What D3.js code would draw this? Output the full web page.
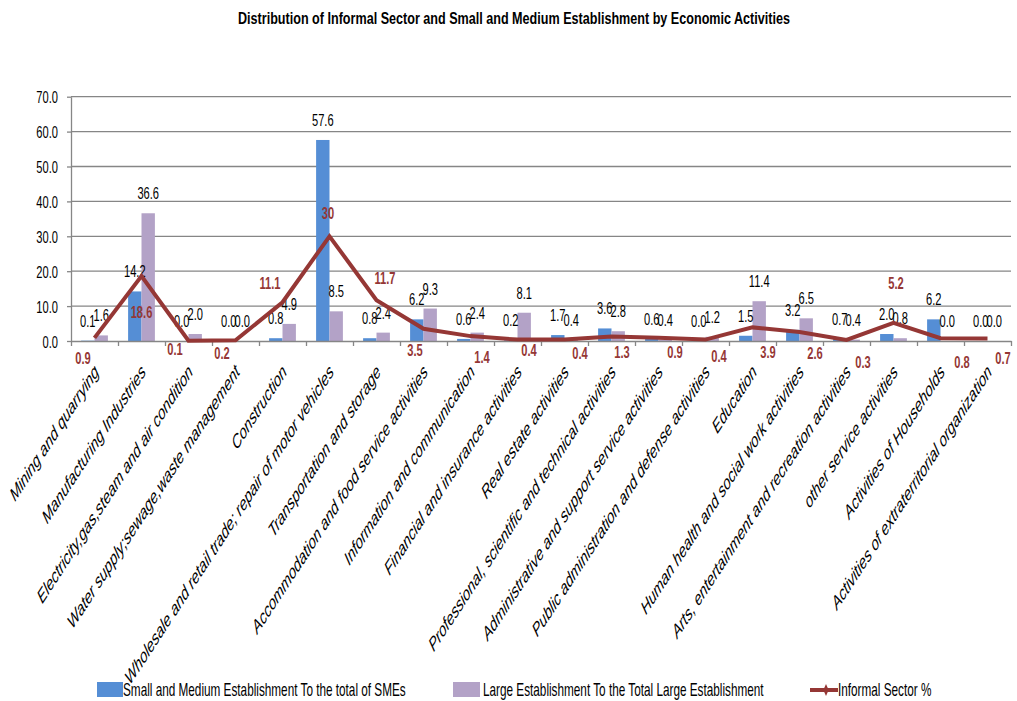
<!DOCTYPE html>
<html><head><meta charset="utf-8">
<script src="https://cdn.jsdelivr.net/npm/d3@7"></script>
<style>body{margin:0;background:#fff} svg{display:block}</style>
</head><body>
<svg id="chart" width="1017" height="701"></svg>
<script>
// ---------------- data ----------------
const chartTitle = "Distribution of Informal Sector and Small and  Medium Establishment by Economic Activities";
const categories = [
  "Mining and quarrying",
  "Manufacturing Industries",
  "Electricity,gas,steam  and air condition",
  "Water supply;sewage,waste  management",
  "Construction",
  "Wholesale and retail trade; repair of motor  vehicles",
  "Transportation  and storage",
  "Accommodation  and food service activities",
  "Information  and communication",
  "Financial and insurance activities",
  "Real estate activities",
  "Professional, scientific and technical activities",
  "Administrative  and  support service activities",
  "Public administration  and defense activities",
  "Education",
  "Human health  and social work activities",
  "Arts, entertainment and recreation activities",
  "other service activities",
  "Activities of Households",
  "Activities of extraterritorial organization"
];
const smeShare      = [0.1, 14.2, 0.0, 0.0, 0.8, 57.6, 0.8, 6.2, 0.6, 0.2, 1.7, 3.6, 0.6, 0.0, 1.5, 3.2, 0.7, 2.0, 6.2, 0.0];
const largeShare    = [1.6, 36.6, 2.0, 0.0, 4.9, 8.5, 2.4, 9.3, 2.4, 8.1, 0.4, 2.8, 0.4, 1.2, 11.4, 6.5, 0.4, 0.8, 0.0, 0.0];
const informalShare = [0.9, 18.6, 0.1, 0.2, 11.1, 30, 11.7, 3.5, 1.4, 0.4, 0.4, 1.3, 0.9, 0.4, 3.9, 2.6, 0.3, 5.2, 0.8, 0.7];
const yTickValues   = [0, 10, 20, 30, 40, 50, 60, 70];
const seriesNames   = [
  "Small and Medium Establishment  To the total of SMEs",
  "Large Establishment To the Total Large Establishment",
  "Informal Sector %"
];

// ---------------- layout / style (not data) ----------------
// label offsets of the informal-sector labels relative to their point [dx, dy]
const informalLabelOffset = [
  [-11.5, 20], [0, 36], [-13.5, 8], [-13.5, 13], [-12.5, -19], [-1.5, -23], [8.5, -22],
  [-8.5, 21], [11.5, 21], [11.5, 10], [15.5, 13], [10.5, 15], [16.5, 14], [13.5, 16],
  [15.5, 24], [15.5, 21], [16.5, 22], [2.5, -40], [21.5, 24], [15.5, 19]
];
const SX = 0.654;            // horizontal squeeze of the text
const FONT = "'Liberation Sans', Arial, sans-serif";
const colSME = "#558ED5", colLarge = "#B3A2C7", colInf = "#953735", colAxis = "#868686";

const svg = d3.select("#chart");
const plotL = 71, plotR = 1011, plotT = 96.7, plotB = 341;

const x = d3.scaleBand().domain(categories).range([plotL, plotR]).padding(0);
const xEdge = d3.scaleLinear().domain([0, categories.length]).range([plotL, plotR]);
const y = d3.scaleLinear().domain([0, 70]).range([plotB, plotT]);
const cx = c => x(c) + x.bandwidth() / 2;
const barW = 13.4;

// title
svg.append("text")
  .attr("x", 514).attr("y", 24)
  .attr("text-anchor", "middle")
  .attr("font-family", FONT).attr("font-weight", "bold").attr("font-size", 16)
  .attr("textLength", 552).attr("lengthAdjust", "spacingAndGlyphs")
  .attr("fill", "#000")
  .text(chartTitle);

// gridlines
svg.append("g").selectAll("line")
  .data(yTickValues.filter(v => v > 0))
  .join("line")
  .attr("x1", plotL).attr("x2", plotR)
  .attr("y1", d => y(d)).attr("y2", d => y(d))
  .attr("stroke", colAxis).attr("stroke-width", 1.3);

// y axis
const yAxis = svg.append("g")
  .attr("transform", `translate(${plotL},0)`)
  .call(d3.axisLeft(y).tickValues(yTickValues).tickFormat(d3.format(".1f")).tickSize(4).tickSizeOuter(0));
yAxis.select(".domain").attr("stroke", colAxis).attr("stroke-width", 1.3);
yAxis.selectAll(".tick line").attr("stroke", colAxis).attr("stroke-width", 1.3);
yAxis.selectAll(".tick text")
  .attr("x", 0).attr("dy", "0.36em")
  .attr("transform", `translate(-13,0) scale(${SX},1)`)
  .attr("font-family", FONT).attr("font-size", 17).attr("fill", "#000");

// bars
const gBars = svg.append("g");
gBars.selectAll("rect.sme")
  .data(categories)
  .join("rect").attr("class", "sme")
  .attr("x", c => cx(c) - barW)
  .attr("width", barW)
  .attr("y", (c, i) => y(smeShare[i]))
  .attr("height", (c, i) => y(0) - y(smeShare[i]))
  .attr("fill", colSME);
gBars.selectAll("rect.large")
  .data(categories)
  .join("rect").attr("class", "large")
  .attr("x", c => cx(c))
  .attr("width", barW)
  .attr("y", (c, i) => y(largeShare[i]))
  .attr("height", (c, i) => y(0) - y(largeShare[i]))
  .attr("fill", colLarge);

// x axis
const xAxis = svg.append("g")
  .attr("transform", `translate(0,${plotB})`)
  .call(d3.axisBottom(xEdge).tickValues(d3.range(categories.length + 1)).tickFormat("").tickSize(5).tickSizeOuter(0));
xAxis.select(".domain").attr("stroke", colAxis).attr("stroke-width", 1.3);
xAxis.selectAll(".tick line").attr("stroke", colAxis).attr("stroke-width", 1.3);

// category labels
svg.append("g").selectAll("text")
  .data(categories)
  .join("text")
  .attr("transform", c => `translate(${cx(c) + 5},373) scale(${SX},1) rotate(-45)`)
  .attr("text-anchor", "end")
  .attr("font-family", FONT).attr("font-style", "italic").attr("font-size", 19.6)
  .attr("fill", "#000")
  .text(c => c);

// bar value labels
const fmt = d3.format(".1f");
const gLab = svg.append("g").attr("font-family", FONT).attr("font-size", 17).attr("fill", "#000").attr("text-anchor", "middle");
gLab.selectAll("text.sme")
  .data(categories)
  .join("text").attr("class", "sme")
  .attr("transform", (c, i) => `translate(${cx(c) - barW / 2},${y(smeShare[i]) - 14}) scale(${SX},1)`)
  .text((c, i) => fmt(smeShare[i]));
gLab.selectAll("text.large")
  .data(categories)
  .join("text").attr("class", "large")
  .attr("transform", (c, i) => `translate(${cx(c) + barW / 2},${y(largeShare[i]) - 14}) scale(${SX},1)`)
  .text((c, i) => fmt(largeShare[i]));

// informal line
const line = d3.line().x((v, i) => cx(categories[i])).y(v => y(v));
svg.append("path")
  .datum(informalShare)
  .attr("d", line)
  .attr("fill", "none")
  .attr("stroke", colInf).attr("stroke-width", 4)
  .attr("stroke-linejoin", "miter");

// informal labels
svg.append("g").selectAll("text")
  .data(informalShare)
  .join("text")
  .attr("transform", (v, i) => `translate(${cx(categories[i]) + informalLabelOffset[i][0]},${y(v) + informalLabelOffset[i][1]}) scale(${SX},1)`)
  .attr("dy", "0.36em")
  .attr("text-anchor", "middle")
  .attr("font-family", FONT).attr("font-weight", "bold").attr("font-size", 17)
  .attr("fill", colInf)
  .text(v => String(v));

// legend
const lg = svg.append("g").attr("font-family", FONT).attr("font-size", 18).attr("fill", "#000");
lg.append("rect").attr("x", 97).attr("y", 682).attr("width", 26).attr("height", 15).attr("fill", colSME);
lg.append("text").attr("transform", `translate(123,696) scale(${SX},1)`).text(seriesNames[0]);
lg.append("rect").attr("x", 453).attr("y", 682).attr("width", 27).attr("height", 15).attr("fill", colLarge);
lg.append("text").attr("transform", `translate(483,696) scale(${SX},1)`).text(seriesNames[1]);
lg.append("line").attr("x1", 810).attr("x2", 838).attr("y1", 690).attr("y2", 690).attr("stroke", colInf).attr("stroke-width", 4);
lg.append("path").attr("transform", "translate(826,690)")
  .attr("d", "M0,-6 L2,-1.5 L5,0 L2,1.5 L0,6 L-2,1.5 L-5,0 L-2,-1.5 Z").attr("fill", colInf);
lg.append("text").attr("transform", `translate(838,696) scale(${SX},1)`).text(seriesNames[2]);
</script>
</body></html>
